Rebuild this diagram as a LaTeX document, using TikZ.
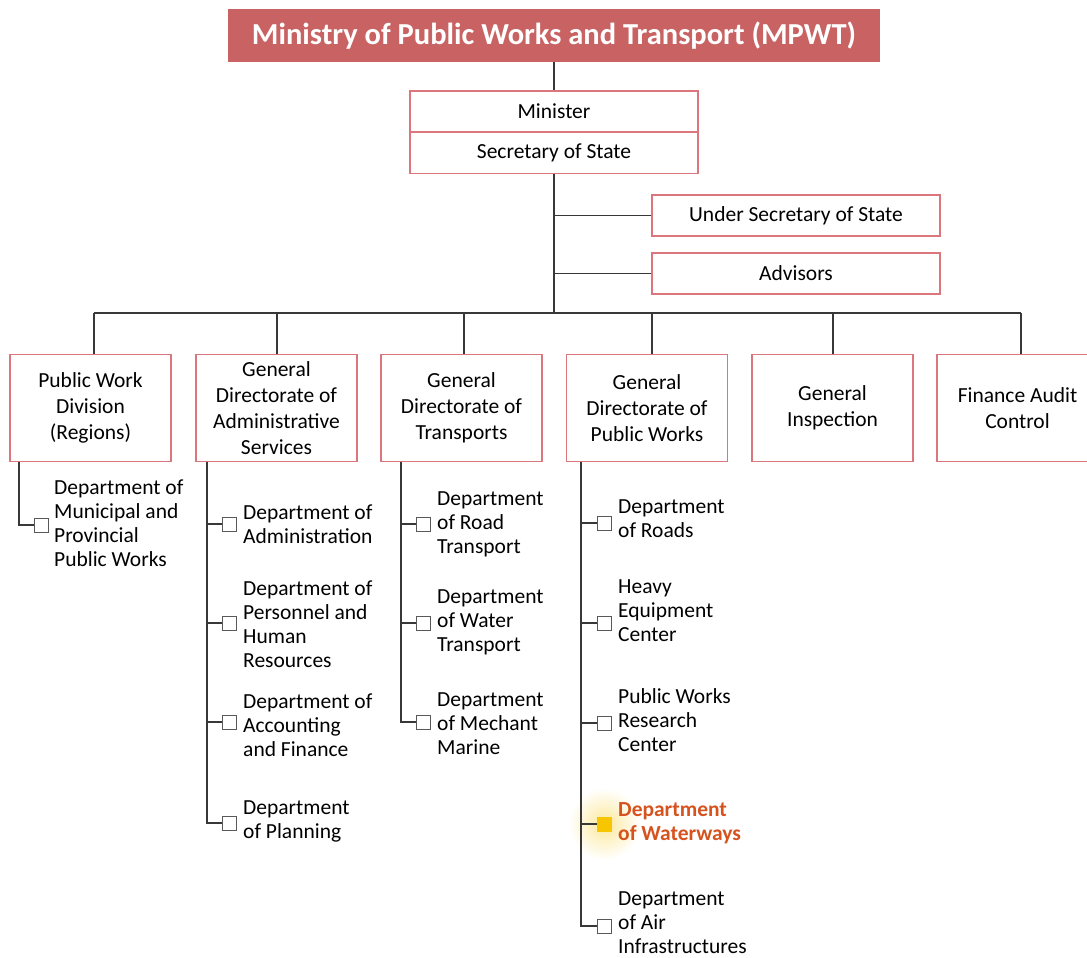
\documentclass[tikz,border=0pt]{standalone}
\usepackage{fontspec}
\setmainfont{Carlito}
\usepackage{tikz}
\definecolor{mpwtred}{RGB}{201,99,99}
\definecolor{boxline}{RGB}{218,118,124}
\definecolor{wayred}{RGB}{214,82,30}
\definecolor{wayyellow}{RGB}{248,198,0}

\tikzset{
  headbox/.style={fill=mpwtred, draw=none, text=white, inner sep=0pt,
    minimum width=652pt, minimum height=53pt, font=\fontsize{30.5}{32}\selectfont\bfseries},
  unit/.style={draw=boxline, line width=1.3pt, fill=white, align=center, inner sep=0pt,
    font=\fontsize{21.5}{26}\selectfont},
  wideunit/.style={unit, minimum width=288pt, minimum height=41pt},
  colunit/.style={unit, minimum width=161pt, minimum height=107pt},
  dept/.style={anchor=west, align=left, inner sep=0pt, font=\fontsize{21.5}{24}\selectfont},
  tick/.style={draw=black!65, line width=0.9pt, fill=white, minimum size=14pt, inner sep=0pt},
  wire/.style={draw=black!78, line width=1.7pt},
}

\begin{document}
\begin{tikzpicture}[x=1pt, y=-1pt]
  \useasboundingbox (0,0) rectangle (1087,958);
  \clip (0,0) rectangle (1087,958);

  % top of the chart
  \node [headbox] (mpwt) at (554, 35.5) {Ministry of Public Works and Transport (MPWT)};
  \node [wideunit] (min) at (554, 111.5) {Minister};
  \node [wideunit] (sec) at (554, 153) {Secretary of State};
  \node [wideunit] (usec) at (796, 215.5) {Under Secretary of State};
  \node [wideunit] (adv) at (796, 273.5) {Advisors};

  % directorates
  \node [colunit] (pwd) at (90.5, 408) {Public Work\\Division\\(Regions)};
  \node [colunit] (gda) at (276.5, 408) {General\\Directorate of\\Administrative\\Services};
  \node [colunit] (gdt) at (461.5, 408) {General\\Directorate of\\Transports};
  \node [colunit] (gdp) at (647, 408) {General\\Directorate of\\Public Works};
  \node [colunit] (gin) at (832.5, 408) {General\\Inspection};
  \node [colunit] (fac) at (1017.5, 408) {Finance Audit\\Control};

  % joints on the bus line
  \coordinate (j1) at (94, 313);
  \coordinate (j2) at (277, 313);
  \coordinate (j3) at (464, 313);
  \coordinate (j4) at (652, 313);
  \coordinate (j5) at (833, 313);
  \coordinate (j6) at (1021, 313);

  \draw [wire] (mpwt) -- (min);
  \draw [wire] (sec.south) -- (sec.south |- j1);
  \draw [wire] (usec.west) -- (usec.west -| sec.south);
  \draw [wire] (adv.west) -- (adv.west -| sec.south);
  \draw [wire] (j1) -- (j6);
  \draw [wire] (j1) -- (j1 |- pwd.north);
  \draw [wire] (j2) -- (j2 |- gda.north);
  \draw [wire] (j3) -- (j3 |- gdt.north);
  \draw [wire] (j4) -- (j4 |- gdp.north);
  \draw [wire] (j5) -- (j5 |- gin.north);
  \draw [wire] (j6) -- (j6 |- fac.north);

  % glow behind the highlighted department
  \shade [inner color=wayyellow!40, outer color=white] (604.5, 824) circle (36);

  % departments under each directorate
  \coordinate (t1) at (19, 0);
  \coordinate (t2) at (207, 0);
  \coordinate (t3) at (401, 0);
  \coordinate (t4) at (581, 0);

  \node [tick] (d11) at (41, 525) {};
  \node [dept] (l11) at (54, 523) {Department of\\Municipal and\\Provincial\\Public Works};
  \draw [wire] (pwd.south -| t1) |- (d11.west);

  \node [tick] (d21) at (229.5, 524) {};
  \node [tick] (d22) at (229.5, 623) {};
  \node [tick] (d23) at (229.5, 722) {};
  \node [tick] (d24) at (229.5, 823) {};
  \node [dept] (l21) at (243, 524) {Department of\\Administration};
  \node [dept] (l22) at (243, 624) {Department of\\Personnel and\\Human\\Resources};
  \node [dept] (l23) at (243, 725) {Department of\\Accounting\\and Finance};
  \node [dept] (l24) at (243, 821) {Department\\of Planning};
  \draw [wire] (gda.south -| t2) |- (d24.west);
  \draw [wire] (d21.west) -- (d21.west -| t2);
  \draw [wire] (d22.west) -- (d22.west -| t2);
  \draw [wire] (d23.west) -- (d23.west -| t2);

  \node [tick] (d31) at (423.5, 524) {};
  \node [tick] (d32) at (423.5, 623) {};
  \node [tick] (d33) at (423.5, 722) {};
  \node [dept] (l31) at (437, 524) {Department\\of Road\\Transport};
  \node [dept] (l32) at (437, 622) {Department\\of Water\\Transport};
  \node [dept] (l33) at (437, 723.5) {Department\\of Mechant\\Marine};
  \draw [wire] (gdt.south -| t3) |- (d33.west);
  \draw [wire] (d31.west) -- (d31.west -| t3);
  \draw [wire] (d32.west) -- (d32.west -| t3);

  \node [tick] (d41) at (604.5, 523) {};
  \node [tick] (d42) at (604.5, 623) {};
  \node [tick] (d43) at (604.5, 723) {};
  \node [tick, draw=wayyellow, fill=wayyellow] (d44) at (604.5, 824) {};
  \node [tick] (d45) at (604.5, 926) {};
  \node [dept] (l41) at (618, 519) {Department\\of Roads};
  \node [dept] (l42) at (618, 611) {Heavy\\Equipment\\Center};
  \node [dept] (l43) at (618, 720) {Public Works\\Research\\Center};
  \node [dept, text=wayred, font=\fontsize{21.5}{24}\selectfont\bfseries] (l44) at (618, 823) {Department\\of Waterways};
  \node [dept] (l45) at (618, 923) {Department\\of Air\\Infrastructures};
  \draw [wire] (gdp.south -| t4) |- (d45.west);
  \draw [wire] (d41.west) -- (d41.west -| t4);
  \draw [wire] (d42.west) -- (d42.west -| t4);
  \draw [wire] (d43.west) -- (d43.west -| t4);
  \draw [wire] (d44.west) -- (d44.west -| t4);
\end{tikzpicture}
\end{document}
